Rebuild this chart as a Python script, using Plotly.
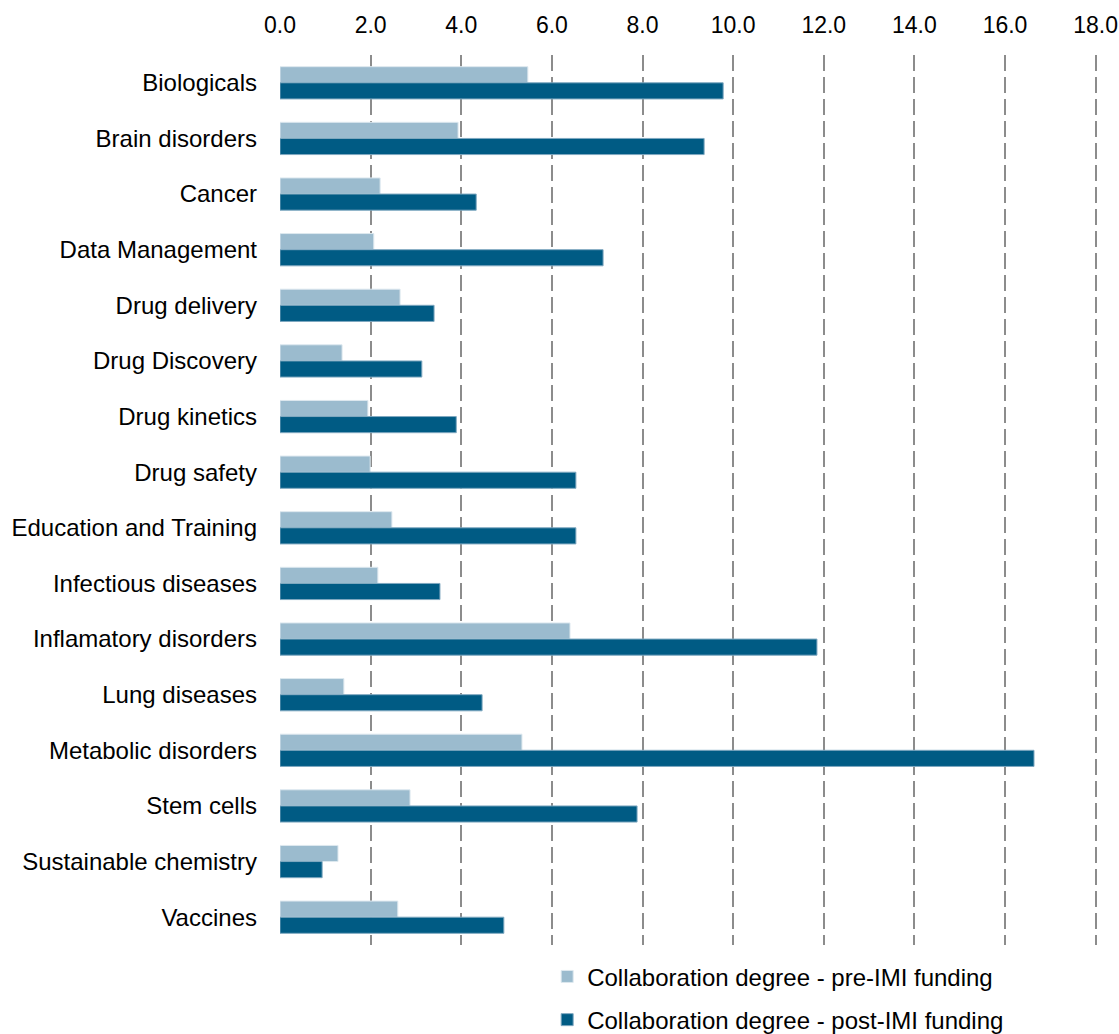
import plotly.graph_objects as go

categories = [
    "Biologicals", "Brain disorders", "Cancer", "Data Management", "Drug delivery",
    "Drug Discovery", "Drug kinetics", "Drug safety", "Education and Training",
    "Infectious diseases", "Inflamatory disorders", "Lung diseases",
    "Metabolic disorders", "Stem cells", "Sustainable chemistry", "Vaccines",
]
pre_imi = [5.47, 3.93, 2.21, 2.07, 2.65, 1.37, 1.94, 1.99, 2.47, 2.16, 6.40, 1.41, 5.34, 2.87, 1.28, 2.60]
post_imi = [9.78, 9.36, 4.33, 7.13, 3.40, 3.13, 3.89, 6.53, 6.53, 3.53, 11.85, 4.46, 16.64, 7.88, 0.93, 4.94]
series_names = ["Collaboration degree - pre-IMI funding", "Collaboration degree - post-IMI funding"]
x_ticks = [0, 2, 4, 6, 8, 10, 12, 14, 16, 18]

FONT = "Liberation Sans, Arial, sans-serif"
FS = 24

fig = go.Figure()
fig.add_trace(go.Bar(
    y=categories, x=pre_imi, orientation="h", name=series_names[0],
    marker=dict(color="#9BBBCE", line=dict(color="#DDE8EF", width=1)),
    legendgroup="a",
))
fig.add_trace(go.Bar(
    y=categories, x=post_imi, orientation="h", name=series_names[1],
    marker=dict(color="#005B84", line=dict(color="#7FA8C0", width=1)),
    legendgroup="b",
))

fig.update_layout(
    width=1119, height=1034,
    margin=dict(l=280, r=22, t=55, b=89, autoexpand=False),
    paper_bgcolor="white", plot_bgcolor="white",
    barmode="group", bargap=0.42, bargroupgap=0,
    font=dict(family=FONT, size=FS, color="#000000"),
    showlegend=True,
    legend=dict(
        orientation="v", x=0.327, xanchor="left", y=-0.0105, yanchor="top",
        font=dict(family=FONT, size=FS, color="#000000"),
        tracegroupgap=9, itemwidth=30, traceorder="grouped",
        bgcolor="rgba(0,0,0,0)",
    ),
    xaxis=dict(
        side="top", range=[0, 18.03], tickvals=x_ticks, tickformat=".1f",
        showgrid=True, gridcolor="#8C8C8C", gridwidth=1.5, griddash="16px,6px",
        zeroline=False, showline=False, ticks="", ticklabelstandoff=16,
        tickfont=dict(family=FONT, size=23, color="#000000"),
        ticklabeloverflow="allow",
        automargin=False, fixedrange=True,
    ),
    yaxis=dict(
        autorange="reversed", showgrid=False, zeroline=False, showline=False,
        ticks="", ticklabelstandoff=22, automargin=False, fixedrange=True,
        tickfont=dict(family=FONT, size=FS, color="#000000"),
    ),
)

fig.write_html(
    "out.html",
    config={"displayModeBar": False},
    post_script="document.body.style.margin='0';document.body.style.overflow='hidden';",
)
